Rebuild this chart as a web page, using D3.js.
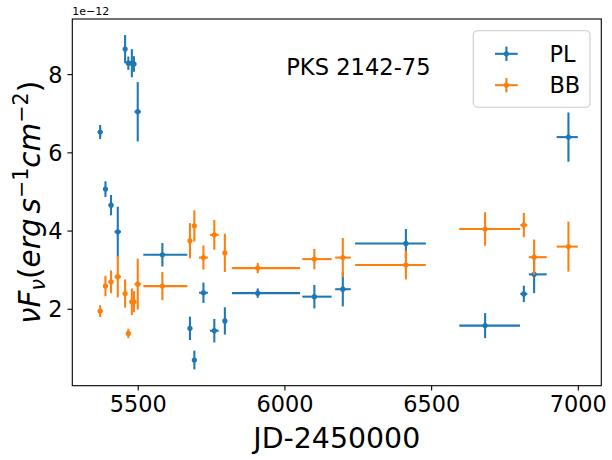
<!DOCTYPE html>
<html>
<head>
<meta charset="utf-8">
<script src="https://cdn.jsdelivr.net/npm/d3@7"></script>
<style>
  html, body { margin: 0; padding: 0; background: #fff; }
  svg { display: block; font-family: "DejaVu Sans", sans-serif; }
</style>
</head>
<body>
<svg id="chart" width="612" height="460"></svg>
<script>
// ---- data (flux values in units of 1e-12) ----
const jd      = [5372, 5390, 5409, 5432, 5457, 5468, 5480, 5487, 5500, 5584, 5678, 5693, 5724, 5761, 5797, 5909, 6102, 6199, 6414, 6684, 6816, 6851, 6968];
const jdErrLo = [8, 8, 8, 11, 6, 7, 8, 8, 11, 65, 6, 5, 15, 15, 6, 88, 41, 26, 173, 88, 12, 18, 40];
const jdErrHi = [8, 8, 8, 11, 6, 7, 8, 8, 11, 85, 6, 5, 15, 15, 6, 144, 59, 27, 68, 119, 12, 43, 32];

const plFlux  = [6.52, 5.06, 4.65, 3.97, 8.64, 8.28, 8.28, 8.26, 7.04, 3.38, 1.50, 0.69, 2.41, 1.44, 1.69, 2.40, 2.31, 2.50, 3.67, 1.57, 2.38, 2.88, 6.39];
const plErr   = [0.18, 0.20, 0.26, 0.64, 0.36, 0.17, 0.36, 0.20, 0.76, 0.30, 0.30, 0.24, 0.26, 0.30, 0.35, 0.12, 0.30, 0.44, 0.37, 0.32, 0.21, 0.48, 0.63];

const bbFlux  = [1.94, 2.58, 2.69, 2.82, 2.39, 1.37, 2.18, 2.18, 2.63, 2.58, 3.74, 4.12, 3.31, 3.89, 3.43, 3.04, 3.27, 3.31, 3.12, 4.04, 4.14, 3.32, 3.59];
const bbErr   = [0.15, 0.26, 0.29, 0.53, 0.36, 0.12, 0.34, 0.27, 0.65, 0.36, 0.45, 0.40, 0.31, 0.38, 0.49, 0.13, 0.26, 0.50, 0.37, 0.43, 0.31, 0.45, 0.64];

const xTicks = [5500, 6000, 6500, 7000];
const yTicks = [2, 4, 6, 8];
const seriesNames = ["PL", "BB"];
const colors = ["#1f77b4", "#ff7f0e"];

// ---- layout ----
const svg = d3.select("#chart");
const L = 72.3, R = 601.3, T = 19, B = 385.7;

const x = d3.scaleLinear().domain([5277, 7080]).range([L, R]);
const y = d3.scaleLinear().domain([0.033, 9.41]).range([B, T]);

const series = [
  { name: seriesNames[0], color: colors[0], v: plFlux, e: plErr },
  { name: seriesNames[1], color: colors[1], v: bbFlux, e: bbErr }
];

// ---- marks ----
series.forEach(s => {
  const g = svg.append("g");
  const pts = jd.map((d, i) => ({ x: d, lo: jdErrLo[i], hi: jdErrHi[i], y: s.v[i], e: s.e[i] }));
  g.selectAll("line.xe").data(pts).join("line")
    .attr("x1", d => x(d.x - d.lo)).attr("x2", d => x(d.x + d.hi))
    .attr("y1", d => y(d.y)).attr("y2", d => y(d.y))
    .attr("stroke", s.color).attr("stroke-width", 2.08);
  g.selectAll("line.ye").data(pts).join("line")
    .attr("x1", d => x(d.x)).attr("x2", d => x(d.x))
    .attr("y1", d => y(d.y - d.e)).attr("y2", d => y(d.y + d.e))
    .attr("stroke", s.color).attr("stroke-width", 2.08);
  g.selectAll("circle").data(pts).join("circle")
    .attr("cx", d => x(d.x)).attr("cy", d => y(d.y)).attr("r", 2.6)
    .attr("fill", s.color);
});

// ---- axes ----
const xAxis = d3.axisBottom(x).tickValues(xTicks).tickSize(4.86).tickPadding(4.86).tickFormat(d3.format("d"));
const yAxis = d3.axisLeft(y).tickValues(yTicks).tickSize(4.86).tickPadding(4.86).tickFormat(d3.format("d"));

const gx = svg.append("g").attr("transform", `translate(0,${B})`).call(xAxis);
const gy = svg.append("g").attr("transform", `translate(${L},0)`).call(yAxis);
[gx, gy].forEach(g => {
  g.select(".domain").remove();
  g.selectAll(".tick line").attr("stroke", "#000").attr("stroke-width", 1.1);
  g.selectAll(".tick text").attr("fill", "#000")
    .style("font-family", "DejaVu Sans").style("font-size", "22.4px");
});
gy.selectAll(".tick text").attr("dy", "0.36em");
gx.selectAll(".tick text").attr("dy", "0.76em");

// frame
svg.append("rect").attr("x", L).attr("y", T).attr("width", R - L).attr("height", B - T)
  .attr("fill", "none").attr("stroke", "#000").attr("stroke-width", 1.1);

// offset text
svg.append("text").attr("x", L).attr("y", 15).attr("font-size", "11px").attr("fill", "#000")
  .text("1e\u221212");

// x label
svg.append("text").attr("x", (L + R) / 2).attr("y", 448).attr("text-anchor", "middle")
  .attr("font-size", "28.4px").attr("fill", "#000").text("JD-2450000");

// y label (mathtext-like)
const yl = svg.append("text")
  .attr("transform", `translate(39.5,${(T + B) / 2}) rotate(-90)`)
  .attr("text-anchor", "middle").attr("font-size", "29.5px").attr("fill", "#000");
yl.append("tspan").attr("font-style", "italic").text("\u03bdF");
yl.append("tspan").attr("font-style", "italic").attr("font-size", "20.6px").attr("dy", "5").text("\u03bd");
yl.append("tspan").attr("dy", "-5").text("(");
yl.append("tspan").attr("font-style", "italic").text("erg");
yl.append("tspan").attr("font-style", "italic").attr("dx", "5").text("s");
yl.append("tspan").attr("font-size", "20.6px").attr("dy", "-12").text("\u22121");
yl.append("tspan").attr("font-style", "italic").attr("dy", "12").text("cm");
yl.append("tspan").attr("font-size", "20.6px").attr("dy", "-12").text("\u22122");
yl.append("tspan").attr("dy", "12").text(")");

// annotation
svg.append("text").attr("x", 286.2).attr("y", 75).attr("font-size", "22.6px").attr("fill", "#000")
  .text("PKS 2142-75");

// ---- legend ----
const lg = svg.append("g");
lg.append("rect").attr("x", 473.3).attr("y", 30.7).attr("width", 116.7).attr("height", 76.6)
  .attr("rx", 4.4).attr("ry", 4.4).attr("fill", "#fff").attr("fill-opacity", 0.8)
  .attr("stroke", "#cccccc").attr("stroke-width", 1.1);
const legY = [53.8, 85.2];
series.forEach((s, i) => {
  const cy = legY[i];
  lg.append("line").attr("x1", 495).attr("x2", 517.7).attr("y1", cy).attr("y2", cy)
    .attr("stroke", s.color).attr("stroke-width", 2.08);
  lg.append("line").attr("x1", 506.4).attr("x2", 506.4).attr("y1", cy - 7.2).attr("y2", cy + 7.2)
    .attr("stroke", s.color).attr("stroke-width", 2.08);
  lg.append("circle").attr("cx", 506.4).attr("cy", cy).attr("r", 2.6).attr("fill", s.color);
  lg.append("text").attr("x", 549.5).attr("y", cy + 8.1).attr("font-size", "22.4px").attr("fill", "#000")
    .text(s.name);
});
</script>
</body>
</html>
